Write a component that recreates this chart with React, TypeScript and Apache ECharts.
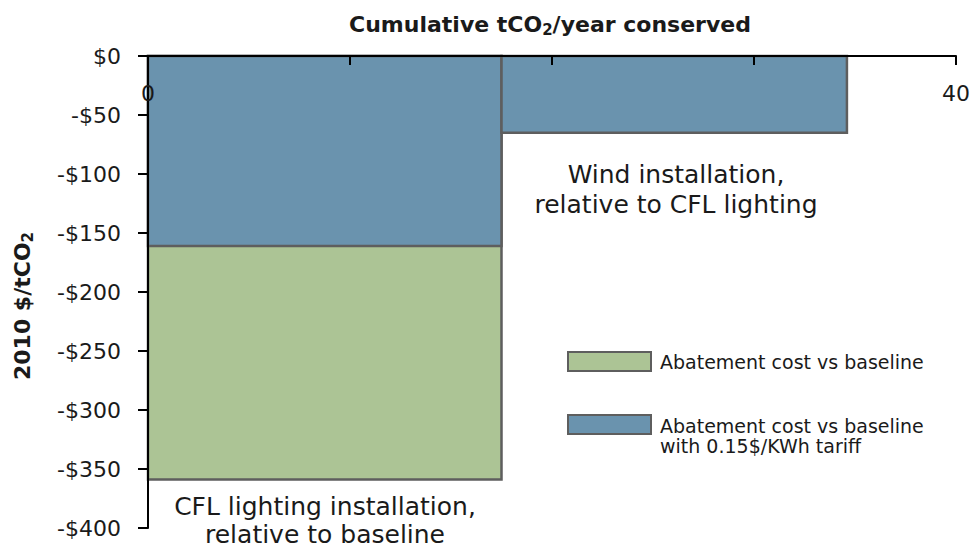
import React, { useEffect, useRef } from "react";
import * as echarts from "echarts";

// ---- data ----
const projects = ["CFL lighting installation", "Wind installation"];
const cumulativeStart = [0, 17.5]; // tCO2/year conserved, start of each block
const cumulativeEnd = [17.5, 34.6]; // tCO2/year conserved, end of each block
const costVsBaseline = [-359, null]; // 2010 $/tCO2
const costWithTariff = [-161, -65]; // 2010 $/tCO2 with 0.15$/KWh tariff
const yTicks = [0, -50, -100, -150, -200, -250, -300, -350, -400];
const xShownLabels = [0, 40];

const seriesNames = ["Abatement cost vs baseline", "Abatement cost vs baseline\nwith 0.15$/KWh tariff"];
const annotations = ["CFL lighting installation,\nrelative to baseline", "Wind installation,\nrelative to CFL lighting"];

const GREEN = "#acc495";
const BLUE = "#6a93ae";
const EDGE = "#5e5e5e";
const FONT = "DejaVu Sans";
const INK = "#1a1a1a";

function buildData(values: (number | null)[]) {
  const out: any[] = [];
  values.forEach((v, i) => {
    if (v !== null) out.push({ name: projects[i], value: [cumulativeStart[i], cumulativeEnd[i], v] });
  });
  return out;
}

function renderBlock(fill: string) {
  return (params: any, api: any) => {
    const x0 = api.value(0);
    const x1 = api.value(1);
    const y = api.value(2);
    const p0 = api.coord([x0, 0]);
    const p1 = api.coord([x1, y]);
    return {
      type: "rect",
      shape: { x: p0[0], y: p0[1], width: p1[0] - p0[0], height: p1[1] - p0[1] },
      style: { fill, stroke: EDGE, lineWidth: 2.5 },
    };
  };
}

export default function App() {
  const ref = useRef<HTMLDivElement>(null);
  useEffect(() => {
    document.body.style.margin = "0";
    const chart = echarts.init(ref.current!, null, { renderer: "svg" });
    chart.setOption({
      animation: false,
      backgroundColor: "#ffffff",
      grid: { left: 148, right: 14, top: 56, bottom: 20 },
      xAxis: {
        type: "value",
        position: "top",
        min: 0,
        max: 40,
        interval: 10,
        z: 5,
        splitLine: { show: false },
        axisLine: { show: true, lineStyle: { color: "#000", width: 2 } },
        axisTick: { show: true, inside: true, length: 9, lineStyle: { color: "#000", width: 2 } },
        axisLabel: {
          inside: true,
          margin: 26,
          fontFamily: FONT,
          fontSize: 22,
          color: INK,
          formatter: (v: number) => (xShownLabels.indexOf(v) >= 0 ? String(v) : ""),
        },
      },
      yAxis: {
        type: "value",
        min: yTicks[yTicks.length - 1],
        max: yTicks[0],
        interval: 50,
        z: 5,
        splitLine: { show: false },
        axisLine: { show: true, lineStyle: { color: "#000", width: 2 } },
        axisTick: { show: true, length: 10, lineStyle: { color: "#000", width: 2 } },
        axisLabel: {
          margin: 27,
          fontFamily: FONT,
          fontSize: 22,
          color: INK,
          formatter: (v: number) => (v === 0 ? "$0" : "-$" + Math.abs(v)),
        },
      },
      series: [
        {
          type: "custom",
          name: seriesNames[0],
          renderItem: renderBlock(GREEN),
          encode: { x: [0, 1], y: 2 },
          data: buildData(costVsBaseline),
          z: 2,
        },
        {
          type: "custom",
          name: seriesNames[1],
          renderItem: renderBlock(BLUE),
          encode: { x: [0, 1], y: 2 },
          data: buildData(costWithTariff),
          z: 3,
        },
      ],
      graphic: [
        {
          type: "text",
          x: 550,
          y: 24,
          style: {
            text: "{a|Cumulative tCO}{s|2}{a|/year conserved}",
            align: "center",
            verticalAlign: "middle",
            rich: {
              a: { fontFamily: FONT, fontWeight: "bold", fontSize: 22, lineHeight: 26, fill: INK },
              s: { fontFamily: FONT, fontWeight: "bold", fontSize: 15, lineHeight: 15, verticalAlign: "bottom", fill: INK },
            },
          },
        },
        {
          type: "text",
          x: 22,
          y: 306,
          rotation: Math.PI / 2,
          style: {
            text: "{a|2010 $/tCO}{s|2}",
            align: "center",
            verticalAlign: "middle",
            rich: {
              a: { fontFamily: FONT, fontWeight: "bold", fontSize: 22, lineHeight: 26, fill: INK },
              s: { fontFamily: FONT, fontWeight: "bold", fontSize: 15, lineHeight: 15, verticalAlign: "bottom", fill: INK },
            },
          },
        },
        {
          type: "text",
          x: 325,
          y: 520,
          z: 10,
          style: {
            text: annotations[0],
            align: "center",
            verticalAlign: "middle",
            fontFamily: FONT,
            fontSize: 25,
            lineHeight: 28,
            fill: INK,
          },
        },
        {
          type: "text",
          x: 676,
          y: 189,
          z: 10,
          style: {
            text: annotations[1],
            align: "center",
            verticalAlign: "middle",
            fontFamily: FONT,
            fontSize: 25,
            lineHeight: 30,
            fill: INK,
          },
        },
        {
          type: "rect",
          shape: { x: 568, y: 352, width: 83, height: 19 },
          style: { fill: GREEN, stroke: EDGE, lineWidth: 2 },
        },
        {
          type: "text",
          x: 660,
          y: 362,
          style: {
            text: seriesNames[0],
            align: "left",
            verticalAlign: "middle",
            fontFamily: FONT,
            fontSize: 19,
            fill: INK,
          },
        },
        {
          type: "rect",
          shape: { x: 568, y: 415, width: 83, height: 19 },
          style: { fill: BLUE, stroke: EDGE, lineWidth: 2 },
        },
        {
          type: "text",
          x: 660,
          y: 436,
          style: {
            text: seriesNames[1],
            align: "left",
            verticalAlign: "middle",
            fontFamily: FONT,
            fontSize: 19,
            lineHeight: 20,
            fill: INK,
          },
        },
      ],
    });
    return () => chart.dispose();
  }, []);
  return <div ref={ref} style={{ width: 973, height: 548 }} />;
}
